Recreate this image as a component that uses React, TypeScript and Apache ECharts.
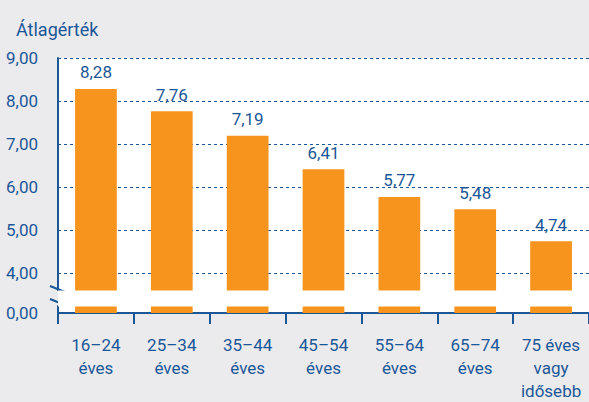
import React, { useEffect, useRef } from "react";
import * as echarts from "echarts";

const categories = ["16–24\néves", "25–34\néves", "35–44\néves", "45–54\néves", "55–64\néves", "65–74\néves", "75 éves\nvagy\nidősebb"];
const values = [8.28, 7.76, 7.19, 6.41, 5.77, 5.48, 4.74];
const yTicks = [0, 4, 5, 6, 7, 8, 9];
const yTitle = "Átlagérték";

const BLUE = "#1b5797";
const ORANGE = "#f7941d";
const FONT = "Roboto, 'Noto Sans', sans-serif";

const fmt = (v: number) => v.toFixed(2).replace(".", ",");

export default function App() {
  const ref = useRef<HTMLDivElement>(null);
  useEffect(() => {
    const chart = echarts.init(ref.current!, null, { renderer: "svg" });
    chart.setOption({
      animation: false,
      backgroundColor: "#ebebee",
      textStyle: { fontFamily: FONT },
      title: {
        text: yTitle,
        left: 11,
        top: 15,
        textStyle: { color: BLUE, fontSize: 18, fontWeight: "normal", fontFamily: FONT },
      },
      grid: {
        left: 58,
        right: 0,
        top: 58,
        bottom: 85,
        show: true,
        backgroundColor: "#ffffff",
        borderWidth: 0,
        containLabel: false,
      },
      xAxis: {
        type: "category",
        data: categories,
        axisLine: { lineStyle: { color: BLUE, width: 2 } },
        axisTick: { show: true, length: 11, lineStyle: { color: BLUE, width: 2 } },
        axisLabel: { color: BLUE, fontSize: 17, lineHeight: 23, margin: 20, interval: 0, fontFamily: FONT },
      },
      yAxis: {
        type: "value",
        min: 0,
        max: 9,
        interval: 1,
        breaks: [{ start: 0.16, end: 3.6, gap: 0.37 }],
        breakArea: {
          show: true,
          itemStyle: { color: "#ffffff", borderWidth: 0, opacity: 1 },
          zigzagAmplitude: 0,
          expandOnClick: false,
        },
        breakLabelLayout: { moveOverlap: false },
        axisLine: { show: true, lineStyle: { color: BLUE, width: 2 } },
        axisTick: { show: false, customValues: yTicks },
        splitLine: { show: true, lineStyle: { color: BLUE, width: 1, type: [3, 3] } },
        axisLabel: {
          color: BLUE,
          fontSize: 17,
          margin: 20,
          fontFamily: FONT,
          customValues: yTicks,
          formatter: (v: number) => fmt(v),
        },
      },
      series: [
        {
          type: "bar",
          data: values,
          barWidth: "55%",
          itemStyle: { color: ORANGE },
          label: {
            show: true,
            position: "top",
            distance: 8,
            color: BLUE,
            fontSize: 17,
            fontFamily: FONT,
            formatter: (p: any) => fmt(p.value),
          },
        },
      ],
      graphic: [
        { type: "line", z: 100, shape: { x1: 50, y1: 286, x2: 65, y2: 292 }, style: { stroke: BLUE, lineWidth: 2 } },
        { type: "line", z: 100, shape: { x1: 50, y1: 299, x2: 65, y2: 305 }, style: { stroke: BLUE, lineWidth: 2 } },
      ],
    });
    return () => chart.dispose();
  }, []);
  return <div ref={ref} style={{ position: "absolute", left: 0, top: 0, width: 589, height: 402 }} />;
}
